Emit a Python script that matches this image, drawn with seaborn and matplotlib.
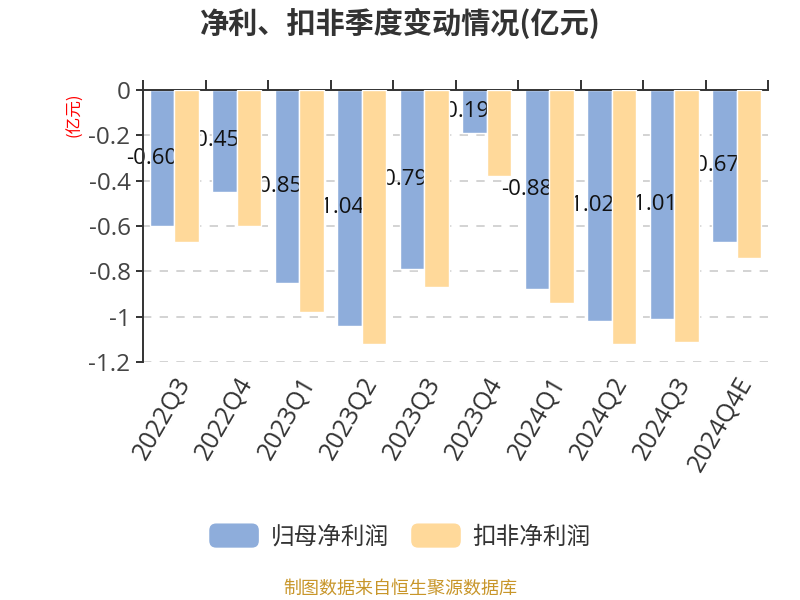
import numpy as np
import pandas as pd
import matplotlib
matplotlib.use("Agg")
import matplotlib.pyplot as plt
import seaborn as sns
from matplotlib.patches import FancyBboxPatch, Patch
from matplotlib.legend_handler import HandlerPatch

quarters = ["2022Q3", "2022Q4", "2023Q1", "2023Q2", "2023Q3",
            "2023Q4", "2024Q1", "2024Q2", "2024Q3", "2024Q4E"]
net_profit = [-0.60, -0.45, -0.85, -1.04, -0.79, -0.19, -0.88, -1.02, -1.01, -0.67]
deducted_profit = [-0.67, -0.60, -0.98, -1.12, -0.87, -0.38, -0.94, -1.12, -1.11, -0.74]
series_names = ["归母净利润", "扣非净利润"]
title = "净利、扣非季度变动情况(亿元)"
unit_label = "(亿元)"
footer = "制图数据来自恒生聚源数据库"
yticks = [0, -0.2, -0.4, -0.6, -0.8, -1, -1.2]
ytick_labels = ["0", "-0.2", "-0.4", "-0.6", "-0.8", "-1", "-1.2"]

colors = ["#8EADDB", "#FFD99A"]

df = pd.DataFrame({
    "quarter": quarters * 2,
    "value": net_profit + deducted_profit,
    "series": [series_names[0]] * len(quarters) + [series_names[1]] * len(quarters),
})

sns.set_theme(style="white")
plt.rcParams["font.family"] = ["Noto Sans CJK SC", "DejaVu Sans"]
latin = ["Open Sans", "Noto Sans CJK SC", "DejaVu Sans"]

fig = plt.figure(figsize=(8, 6), dpi=100)
ax = fig.add_axes([143 / 800, (600 - 362) / 600, 625 / 800, 272 / 600])

sns.barplot(data=df, x="quarter", y="value", hue="series", palette=colors,
            width=0.78, ax=ax, saturation=1, legend=False, zorder=2)

# value labels for first series (drawn beneath second series bars)
for bar, v in zip(ax.containers[0], net_profit):
    cx = bar.get_x() + bar.get_width() / 2 - 0.17
    ax.text(cx, bar.get_height() / 2, f"{v:.2f}", ha="center", va="center",
            fontsize=16, color="#111111", zorder=2.5, family=latin)
for bar in ax.containers[1]:
    bar.set_zorder(3)

ax.set_ylim(-1.2, 0)
ax.set_xlim(-0.5, len(quarters) - 0.5)
ax.set_yticks(yticks)
ax.set_yticklabels(ytick_labels, fontsize=17.5, color="#444444", family=latin)
ax.set_xlabel("")
ax.set_ylabel("")

ax.set_xticks(range(len(quarters)))
ax.set_xticklabels(quarters, rotation=60, ha="right", rotation_mode="anchor",
                   fontsize=18, color="#333333", family=latin)
ax.tick_params(axis="x", which="major", length=0, pad=8)
ax.set_xticks(np.arange(-0.5, len(quarters), 1), minor=True)
ax.tick_params(axis="x", which="minor", top=True, bottom=False, direction="out",
               length=7, width=1.4, color="#333333")
ax.tick_params(axis="y", which="major", left=True, direction="out", length=5,
               width=1.4, color="#333333", pad=4)

for s in ["right", "bottom"]:
    ax.spines[s].set_visible(False)
for s in ["top", "left"]:
    ax.spines[s].set_color("#333333")
    ax.spines[s].set_linewidth(1.4)

ax.yaxis.grid(True, linestyle=(0, (5, 5)), color="#cccccc", linewidth=1.2, zorder=0)
ax.xaxis.grid(False)
ax.set_axisbelow(True)

fig.text(75 / 800, 1 - 115 / 600, unit_label, rotation=90, color="red",
         fontsize=12, ha="center", va="center")

fig.text(0.5, 1 - 23 / 600, title, ha="center", va="center", fontsize=21,
         fontweight="bold", color="#333333")


class RoundHandler(HandlerPatch):
    def create_artists(self, legend, orig_handle, xdescent, ydescent, width, height, fontsize, trans):
        p = FancyBboxPatch((-xdescent, -ydescent), width, height,
                           boxstyle="round,pad=0,rounding_size=5",
                           facecolor=orig_handle.get_facecolor(), edgecolor="none",
                           transform=trans)
        return [p]


handles = [Patch(facecolor=c) for c in colors]
fig.legend(handles, series_names, loc="center", bbox_to_anchor=(0.5, 1 - 536 / 600),
           ncol=2, frameon=False, fontsize=17, handlelength=2.1, handleheight=1.2,
           handletextpad=0.5, columnspacing=0.95, labelcolor="#333333",
           handler_map={Patch: RoundHandler()})

fig.text(0.5, 1 - 589 / 600, footer, ha="center", va="center", fontsize=13,
         color="#C8962A")

fig.savefig("out.png", dpi=100)
